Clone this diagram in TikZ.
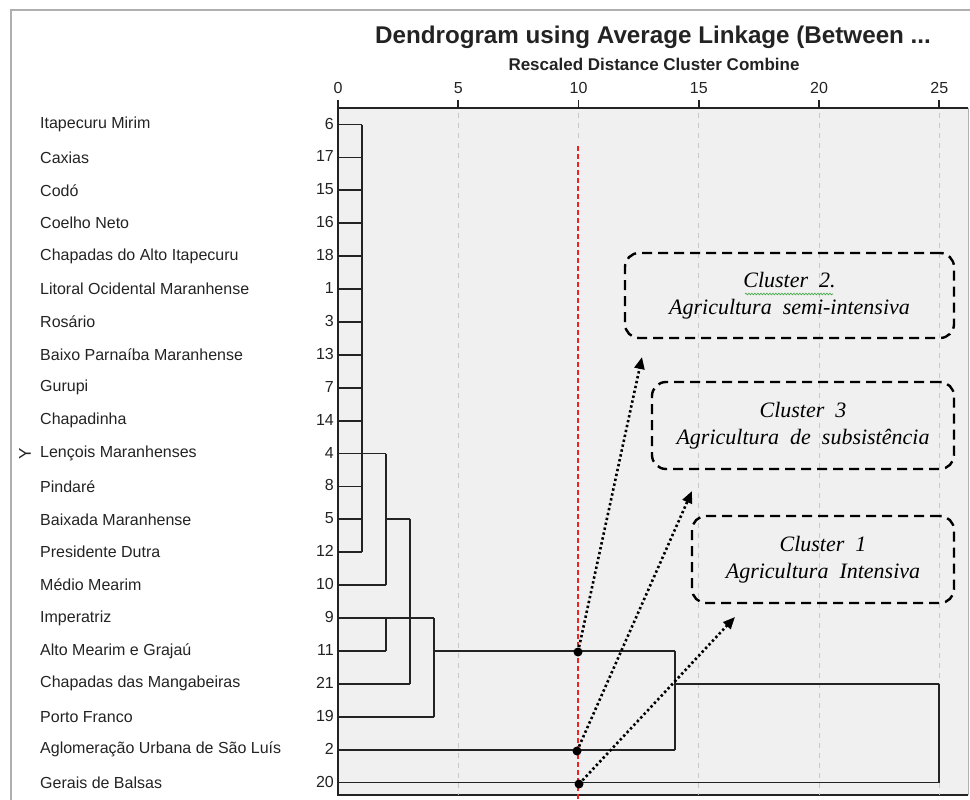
\documentclass[tikz,border=0pt]{standalone}
\usepackage{fontspec}
\setmainfont{Liberation Sans}
\newfontfamily\boxfont{Liberation Serif}
\usetikzlibrary{arrows.meta, positioning, decorations.pathmorphing}
\definecolor{PlotGray}{RGB}{240,240,240}
\definecolor{GridGray}{RGB}{200,200,200}
\definecolor{FrameGray}{RGB}{175,175,175}
\definecolor{InkDark}{RGB}{35,35,35}
\definecolor{CutRed}{RGB}{235,35,35}
\definecolor{SpellGreen}{RGB}{70,170,70}
\newcommand{\rowy}[1]{(124.5+32.9*(#1))}

\begin{document}
\begin{tikzpicture}[x=1pt,y=-1pt,
    link/.style={InkDark,line width=1.8pt},
    gridline/.style={GridGray,line width=1pt,dash pattern=on 5pt off 5pt},
    leafname/.style={anchor=west,inner sep=0pt,text=InkDark,font=\fontsize{16}{18}\selectfont},
    leafnum/.style={anchor=east,inner sep=0pt,text=InkDark,font=\fontsize{16}{18}\selectfont},
    ticklab/.style={inner sep=0pt,text=InkDark,font=\fontsize{16}{18}\selectfont},
    clusterbox/.style={draw,line width=2.4pt,dash pattern=on 10pt off 6pt,rounded corners=14pt,
      align=center,inner sep=0pt,font=\boxfont\itshape\fontsize{22}{27}\selectfont},
    cutdot/.style={circle,fill=black,inner sep=0pt,minimum size=9pt},
    pointer/.style={line width=2.6pt,dash pattern=on 2.4pt off 2.6pt,-{Triangle[length=12pt,width=10pt]}}]
  \useasboundingbox (0,0) rectangle (970,800);
  % frame and plot area
  \draw[FrameGray,line width=1.6pt] (11,800) -- (11,10) -- (970,10);
  \fill[PlotGray] (338,108) rectangle (968,795);
  \draw[FrameGray,line width=1pt] (968,108) -- (968,795);
  \draw[link] (968,108) -- (338,108) -- (338,795) -- (968,795);
  % titles
  \node[font=\bfseries\fontsize{24.2}{27}\selectfont,text=InkDark] (title) at (653,37) {Dendrogram using Average Linkage (Between ...};
  \node[font=\bfseries\fontsize{17}{19}\selectfont,text=InkDark] (subtitle) at (654,64) {Rescaled Distance Cluster Combine};
  % axis ticks and grid
  \foreach \v in {0,5,10,15,20,25}{
    \draw[link] ({338+24.05*\v},100) -- ({338+24.05*\v},108);
    \node[ticklab] (tick\v) at ({338+24.05*\v},88) {\v};
  }
  \foreach \v in {5,15,20,25}
    \draw[gridline] ({338+24.05*\v},113) -- ({338+24.05*\v},795);
  \draw[gridline] (578,113) -- (578,143);
  \draw[CutRed,line width=1.2pt,dash pattern=on 5pt off 3pt] (578,146) -- (578,800);
  % leaves
  \foreach \nm/\num/\xe [count=\i from 0] in {
    Itapecuru Mirim/6/362, Caxias/17/362, Codó/15/362, Coelho Neto/16/362,
    Chapadas do Alto Itapecuru/18/362, Litoral Ocidental Maranhense/1/362,
    Rosário/3/362, Baixo Parnaíba Maranhense/13/362, Gurupi/7/362,
    Chapadinha/14/362, Lençois Maranhenses/4/362, Pindaré/8/362,
    Baixada Maranhense/5/362, Presidente Dutra/12/362, Médio Mearim/10/386,
    Imperatriz/9/386, Alto Mearim e Grajaú/11/386, Chapadas das Mangabeiras/21/410,
    Porto Franco/19/434, Aglomeração Urbana de São Luís/2/675, Gerais de Balsas/20/939}{
    \pgfmathsetmacro\yy{124.5+32.9*\i}
    \coordinate (l\i) at (338,\yy);
    \node[leafname] (n\i) at (40,\yy) {\nm};
    \node[leafnum] (k\i) at (334,\yy-1) {\num};
    \draw[link] (l\i) -- (\xe,\yy);
  }
  \node[rotate=90,inner sep=0pt,text=InkDark,font=\fontsize{17}{19}\selectfont] (yaxis) at (25,{\rowy{10}}) {Y};
  % merges
  \foreach \xa/\ra/\rb in {362/0/13, 386/10/14, 386/15/16, 410/12/17, 434/15/18, 675/16/19, 939/17/20}
    \draw[link] (\xa,{\rowy{\ra}}) -- (\xa,{\rowy{\rb}});
  \foreach \r/\xa/\xb in {10/362/386, 12/386/410, 15/386/434, 16/434/675, 17/675/939}
    \draw[link] (\xa,{\rowy{\r}}) -- (\xb,{\rowy{\r}});
  % cut points
  \node[cutdot] (cut2) at (578,652) {};
  \node[cutdot] (cut3) at (577,751) {};
  \node[cutdot] (cut1) at (579,784) {};
  % cluster boxes
  \node[clusterbox,minimum width=329pt,minimum height=85pt] (box2) at (789.5,295.5)
    {Cluster\ \ 2.\\Agricultura\ \ semi-intensiva};
  \node[clusterbox,minimum width=302pt,minimum height=87pt] (box3) at (803,425.5)
    {Cluster\ \ 3\\Agricultura\ \ de\ \ subsistência};
  \node[clusterbox,minimum width=262pt,minimum height=87pt] (box1) at (823,559.5)
    {Cluster\ \ 1\\Agricultura\ \ Intensiva};
  \draw[SpellGreen,line width=0.7pt,decorate,decoration={snake,amplitude=0.8pt,segment length=3pt}]
    (745,294) -- (833,294);
  % pointers
  \coordinate (tip2) at (642,357);
  \coordinate (tip3) at (692,491);
  \coordinate (tip1) at (735,617);
  \draw[pointer] (cut2.center) -- (tip2);
  \draw[pointer] (cut3.center) -- (tip3);
  \draw[pointer] (cut1.center) -- (tip1);
\end{tikzpicture}
\end{document}
